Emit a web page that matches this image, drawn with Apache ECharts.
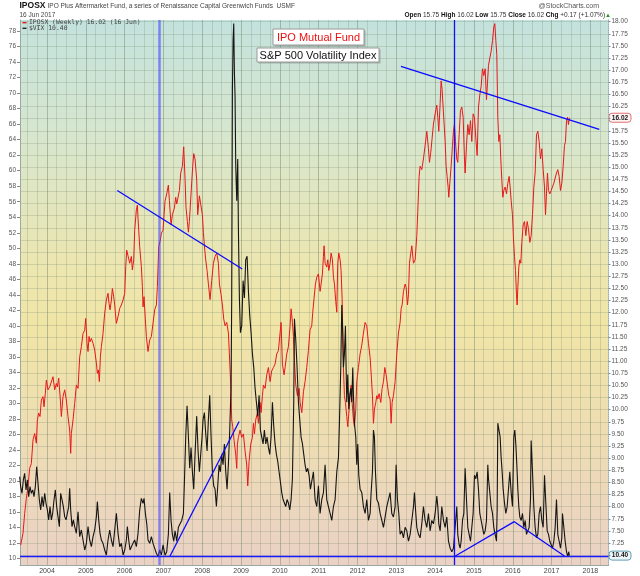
<!DOCTYPE html>
<html><head><meta charset="utf-8">
<script src="https://cdn.jsdelivr.net/npm/echarts@6/dist/echarts.min.js"></script>
<style>html,body{margin:0;padding:0;background:#fff}#c{width:640px;height:576px}</style>
</head><body><div id="c"></div>
<script>
// IPOSX weekly (right axis) [decimal year, price]
const iposx = [[2003.321,7.21],[2003.381,7.45],[2003.424,7.86],[2003.467,8.17],[2003.510,8.41],[2003.553,8.79],[2003.596,8.89],[2003.639,9.38],[2003.682,9.51],[2003.725,9.31],[2003.751,9.79],[2003.785,9.93],[2003.820,9.86],[2003.854,10.20],[2003.897,10.27],[2003.923,10.06],[2003.957,10.34],[2003.983,10.61],[2004.026,10.41],[2004.069,10.47],[2004.112,10.44],[2004.155,10.68],[2004.198,10.41],[2004.241,10.54],[2004.266,10.47],[2004.301,10.65],[2004.344,10.20],[2004.369,9.86],[2004.412,10.27],[2004.455,10.41],[2004.498,10.20],[2004.541,9.86],[2004.584,9.58],[2004.610,9.10],[2004.627,9.51],[2004.670,9.79],[2004.713,10.13],[2004.756,10.51],[2004.799,10.44],[2004.842,11.09],[2004.885,11.30],[2004.928,11.57],[2004.971,11.64],[2004.997,11.88],[2005.031,11.37],[2005.057,11.20],[2005.083,11.51],[2005.108,11.40],[2005.143,11.47],[2005.186,11.37],[2005.229,11.23],[2005.272,10.96],[2005.297,10.75],[2005.323,10.82],[2005.349,10.58],[2005.375,11.09],[2005.400,11.30],[2005.443,11.57],[2005.486,11.99],[2005.529,12.26],[2005.572,12.40],[2005.598,12.19],[2005.624,12.06],[2005.658,12.26],[2005.684,12.50],[2005.718,12.33],[2005.744,12.16],[2005.787,11.78],[2005.830,11.92],[2005.873,12.09],[2005.916,12.16],[2005.959,12.26],[2006.002,12.40],[2006.028,12.95],[2006.053,13.29],[2006.088,13.33],[2006.131,13.02],[2006.174,13.16],[2006.199,12.88],[2006.234,13.09],[2006.259,13.70],[2006.302,14.12],[2006.328,14.22],[2006.345,13.95],[2006.388,13.36],[2006.431,12.95],[2006.457,12.54],[2006.474,12.12],[2006.500,12.33],[2006.534,11.85],[2006.560,11.51],[2006.603,11.20],[2006.646,11.44],[2006.689,11.51],[2006.732,11.51],[2006.775,12.06],[2006.818,12.16],[2006.844,12.54],[2006.878,13.36],[2006.921,13.50],[2006.947,13.64],[2006.990,13.70],[2007.040,14.30],[2007.084,14.45],[2007.127,14.63],[2007.153,14.31],[2007.196,13.81],[2007.230,14.02],[2007.282,14.16],[2007.316,14.38],[2007.342,14.24],[2007.385,14.27],[2007.411,14.52],[2007.445,14.88],[2007.488,15.02],[2007.522,15.42],[2007.557,14.74],[2007.582,14.16],[2007.617,13.88],[2007.643,13.66],[2007.668,13.88],[2007.711,14.45],[2007.754,15.02],[2007.780,15.28],[2007.814,15.17],[2007.857,14.74],[2007.883,14.02],[2007.926,14.41],[2007.969,14.38],[2008.003,14.02],[2008.029,13.66],[2008.055,13.38],[2008.089,13.09],[2008.124,12.87],[2008.158,12.59],[2008.201,12.27],[2008.244,12.66],[2008.287,13.02],[2008.330,13.16],[2008.373,13.23],[2008.416,13.02],[2008.442,12.59],[2008.485,12.37],[2008.519,12.16],[2008.553,11.87],[2008.588,11.73],[2008.631,11.80],[2008.674,11.58],[2008.699,11.15],[2008.734,10.51],[2008.759,9.79],[2008.785,9.65],[2008.820,9.36],[2008.863,9.07],[2008.888,8.79],[2008.906,9.29],[2008.931,9.43],[2008.974,9.58],[2009.017,9.43],[2009.060,9.50],[2009.103,9.15],[2009.146,8.86],[2009.172,8.43],[2009.206,8.93],[2009.249,9.29],[2009.292,9.43],[2009.318,9.72],[2009.344,9.50],[2009.378,9.79],[2009.421,9.94],[2009.447,9.72],[2009.490,10.15],[2009.516,9.94],[2009.550,10.29],[2009.576,10.51],[2009.619,10.44],[2009.662,10.72],[2009.704,10.87],[2009.747,10.58],[2009.790,10.80],[2009.833,10.87],[2009.876,10.94],[2009.919,11.15],[2009.962,11.22],[2010.005,11.58],[2010.031,11.80],[2010.065,10.94],[2010.108,10.72],[2010.134,10.87],[2010.177,11.15],[2010.220,11.30],[2010.263,11.73],[2010.289,12.08],[2010.323,11.80],[2010.349,11.51],[2010.375,11.01],[2010.409,10.51],[2010.452,10.29],[2010.495,10.44],[2010.521,10.15],[2010.564,9.94],[2010.607,10.37],[2010.649,10.58],[2010.692,10.87],[2010.735,11.22],[2010.778,11.65],[2010.821,11.73],[2010.847,12.01],[2010.881,12.30],[2010.916,12.59],[2010.950,12.73],[2010.993,12.80],[2011.036,12.44],[2011.062,12.59],[2011.096,12.80],[2011.122,13.16],[2011.139,13.38],[2011.165,13.02],[2011.208,12.94],[2011.234,13.09],[2011.260,12.87],[2011.294,13.02],[2011.320,13.23],[2011.354,13.09],[2011.380,12.73],[2011.406,12.59],[2011.440,12.23],[2011.466,12.01],[2011.491,13.02],[2011.517,13.23],[2011.552,13.09],[2011.577,12.87],[2011.603,12.30],[2011.620,11.58],[2011.637,10.87],[2011.663,10.29],[2011.689,10.15],[2011.723,9.86],[2011.749,9.65],[2011.784,10.01],[2011.809,10.29],[2011.835,10.51],[2011.861,10.15],[2011.895,9.79],[2011.921,9.65],[2011.955,10.01],[2011.981,10.58],[2012.024,10.87],[2012.067,11.15],[2012.110,11.33],[2012.153,11.58],[2012.196,11.80],[2012.239,11.73],[2012.282,11.37],[2012.325,11.08],[2012.359,10.65],[2012.385,10.29],[2012.411,9.72],[2012.436,10.01],[2012.471,10.15],[2012.497,10.29],[2012.522,10.22],[2012.557,10.33],[2012.600,10.15],[2012.634,10.44],[2012.669,10.58],[2012.703,10.87],[2012.737,10.72],[2012.772,10.51],[2012.806,10.29],[2012.840,10.22],[2012.866,9.72],[2012.892,10.15],[2012.926,10.29],[2012.969,10.58],[2013.012,11.15],[2013.055,11.58],[2013.098,11.80],[2013.124,12.08],[2013.150,12.16],[2013.184,12.44],[2013.227,12.59],[2013.253,12.52],[2013.287,12.16],[2013.313,12.37],[2013.339,13.02],[2013.373,13.23],[2013.399,13.38],[2013.442,13.02],[2013.485,13.09],[2013.528,13.59],[2013.553,14.09],[2013.588,14.81],[2013.613,15.02],[2013.656,14.95],[2013.699,15.17],[2013.742,15.45],[2013.785,15.74],[2013.828,15.38],[2013.854,15.10],[2013.888,15.31],[2013.923,15.60],[2013.957,15.89],[2014.000,16.10],[2014.043,16.28],[2014.069,16.03],[2014.094,15.74],[2014.129,16.31],[2014.155,16.78],[2014.180,16.60],[2014.206,16.24],[2014.232,15.89],[2014.258,15.53],[2014.283,15.02],[2014.309,14.81],[2014.335,14.59],[2014.352,14.38],[2014.378,14.67],[2014.412,15.02],[2014.447,15.45],[2014.472,15.74],[2014.498,15.89],[2014.524,15.53],[2014.558,15.17],[2014.584,15.10],[2014.619,15.67],[2014.653,16.17],[2014.687,16.24],[2014.722,16.03],[2014.756,15.17],[2014.773,14.88],[2014.808,15.45],[2014.842,15.88],[2014.876,15.67],[2014.911,15.96],[2014.945,15.53],[2014.979,16.10],[2015.014,16.03],[2015.048,15.60],[2015.083,15.24],[2015.117,16.24],[2015.151,16.49],[2015.186,16.67],[2015.220,17.03],[2015.254,16.89],[2015.289,17.03],[2015.323,16.39],[2015.349,16.74],[2015.375,17.10],[2015.409,17.25],[2015.443,17.39],[2015.478,17.61],[2015.512,17.89],[2015.538,17.96],[2015.564,17.61],[2015.589,17.32],[2015.615,16.03],[2015.641,15.53],[2015.667,15.67],[2015.692,15.17],[2015.718,14.74],[2015.744,14.38],[2015.770,14.52],[2015.804,14.59],[2015.839,14.45],[2015.873,14.67],[2015.907,14.81],[2015.933,14.59],[2015.959,14.31],[2015.993,14.02],[2016.019,13.52],[2016.045,13.16],[2016.071,12.87],[2016.096,12.37],[2016.113,12.16],[2016.131,12.52],[2016.156,12.94],[2016.182,13.09],[2016.208,13.02],[2016.234,13.45],[2016.268,13.81],[2016.302,13.88],[2016.337,13.59],[2016.371,13.88],[2016.405,13.73],[2016.440,13.45],[2016.474,13.59],[2016.509,14.02],[2016.543,14.59],[2016.577,14.88],[2016.612,15.67],[2016.646,15.74],[2016.680,15.53],[2016.715,15.17],[2016.749,15.38],[2016.784,14.95],[2016.818,14.59],[2016.844,14.02],[2016.869,14.45],[2016.895,14.88],[2016.921,14.52],[2016.955,14.45],[2016.990,14.52],[2017.024,14.52],[2017.058,14.67],[2017.093,14.67],[2017.127,14.88],[2017.161,14.95],[2017.196,14.81],[2017.230,14.52],[2017.264,14.67],[2017.299,15.02],[2017.333,15.45],[2017.359,15.53],[2017.385,15.96],[2017.411,16.03],[2017.436,15.88],[2017.460,16.02]];

// $VIX weekly (left axis) [decimal year, value]
const vix = [[2003.296,20.58],[2003.321,19.29],[2003.356,18.43],[2003.390,20.15],[2003.424,21.00],[2003.459,18.86],[2003.493,20.15],[2003.527,18.00],[2003.562,19.29],[2003.596,18.43],[2003.631,18.86],[2003.665,18.00],[2003.699,19.29],[2003.734,21.86],[2003.768,19.72],[2003.802,17.57],[2003.837,16.28],[2003.871,18.00],[2003.906,16.71],[2003.940,18.43],[2003.974,17.14],[2004.009,16.28],[2004.043,15.00],[2004.077,16.71],[2004.112,15.00],[2004.146,15.85],[2004.180,17.57],[2004.215,18.86],[2004.249,16.71],[2004.283,15.42],[2004.318,14.13],[2004.352,18.43],[2004.387,17.57],[2004.421,16.71],[2004.455,15.42],[2004.490,15.00],[2004.524,15.85],[2004.558,16.71],[2004.584,19.07],[2004.610,16.28],[2004.644,14.13],[2004.679,15.00],[2004.713,14.13],[2004.756,13.27],[2004.799,16.06],[2004.842,12.84],[2004.885,13.70],[2004.928,12.41],[2004.971,11.12],[2005.014,11.98],[2005.057,14.13],[2005.100,12.41],[2005.143,11.55],[2005.186,12.84],[2005.229,13.70],[2005.272,15.42],[2005.297,17.35],[2005.332,15.00],[2005.366,13.27],[2005.400,12.41],[2005.443,11.98],[2005.486,11.12],[2005.529,10.48],[2005.572,12.41],[2005.615,13.70],[2005.658,12.41],[2005.701,11.55],[2005.744,13.70],[2005.787,15.85],[2005.830,13.27],[2005.873,11.55],[2005.916,11.98],[2005.959,10.48],[2006.002,11.12],[2006.045,12.41],[2006.070,14.13],[2006.105,12.41],[2006.139,11.12],[2006.174,11.55],[2006.216,11.98],[2006.259,12.41],[2006.302,11.55],[2006.345,13.27],[2006.388,16.28],[2006.431,17.78],[2006.474,17.14],[2006.500,17.78],[2006.534,15.85],[2006.569,14.56],[2006.603,12.41],[2006.646,11.98],[2006.689,12.84],[2006.732,11.98],[2006.775,11.34],[2006.818,10.70],[2006.861,10.27],[2006.904,11.12],[2006.947,10.48],[2006.990,11.77],[2007.041,10.45],[2007.084,10.90],[2007.127,13.14],[2007.161,18.52],[2007.196,14.93],[2007.230,13.14],[2007.265,12.25],[2007.299,13.59],[2007.342,12.25],[2007.385,14.04],[2007.428,14.49],[2007.471,14.93],[2007.514,15.83],[2007.540,19.86],[2007.574,25.68],[2007.608,29.71],[2007.643,25.68],[2007.677,21.65],[2007.711,24.34],[2007.746,21.20],[2007.780,18.96],[2007.814,23.44],[2007.857,28.37],[2007.892,23.89],[2007.926,21.20],[2007.960,23.44],[2007.995,25.68],[2008.021,27.92],[2008.055,28.82],[2008.089,26.13],[2008.124,23.89],[2008.158,27.92],[2008.192,31.06],[2008.227,25.68],[2008.261,21.20],[2008.295,19.41],[2008.330,18.96],[2008.364,16.72],[2008.399,19.41],[2008.433,22.10],[2008.467,21.20],[2008.502,23.44],[2008.536,22.10],[2008.570,24.79],[2008.605,21.20],[2008.639,18.96],[2008.673,22.10],[2008.708,26.58],[2008.742,31.95],[2008.759,43.59],[2008.777,70.46],[2008.794,76.73],[2008.811,78.97],[2008.828,72.70],[2008.845,69.57],[2008.863,60.61],[2008.888,56.13],[2008.914,61.51],[2008.931,52.55],[2008.957,43.59],[2008.983,39.12],[2009.017,40.01],[2009.052,45.83],[2009.086,43.59],[2009.120,48.52],[2009.155,48.97],[2009.189,44.49],[2009.223,41.36],[2009.258,39.12],[2009.292,36.43],[2009.327,34.64],[2009.361,31.95],[2009.395,30.16],[2009.430,28.37],[2009.464,31.06],[2009.498,26.58],[2009.533,25.68],[2009.567,24.79],[2009.601,26.58],[2009.636,24.79],[2009.670,25.68],[2009.704,24.34],[2009.739,23.44],[2009.773,25.68],[2009.808,30.16],[2009.842,27.02],[2009.876,24.79],[2009.911,23.44],[2009.945,22.55],[2009.979,21.20],[2010.014,19.86],[2010.048,18.52],[2010.082,17.62],[2010.117,17.17],[2010.151,16.72],[2010.185,17.62],[2010.220,17.17],[2010.254,16.28],[2010.289,17.62],[2010.323,20.31],[2010.357,30.16],[2010.375,40.91],[2010.409,38.22],[2010.443,34.64],[2010.478,30.16],[2010.512,27.92],[2010.546,25.68],[2010.581,24.79],[2010.615,23.44],[2010.649,22.10],[2010.684,21.20],[2010.718,21.65],[2010.752,20.75],[2010.787,18.96],[2010.821,18.96],[2010.864,21.20],[2010.907,17.62],[2010.950,16.72],[2010.993,19.41],[2011.036,15.83],[2011.079,17.62],[2011.122,18.52],[2011.165,22.10],[2011.208,17.62],[2011.251,16.72],[2011.294,15.83],[2011.337,14.93],[2011.380,16.72],[2011.423,17.62],[2011.466,21.20],[2011.509,22.99],[2011.534,27.47],[2011.569,34.64],[2011.595,42.70],[2011.620,39.12],[2011.637,34.64],[2011.663,36.43],[2011.689,40.01],[2011.706,34.64],[2011.723,30.16],[2011.749,33.74],[2011.775,29.26],[2011.801,31.06],[2011.826,31.95],[2011.852,30.16],[2011.878,34.64],[2011.895,31.06],[2011.921,27.47],[2011.955,25.68],[2011.981,22.10],[2012.007,24.79],[2012.033,20.75],[2012.067,18.96],[2012.110,18.52],[2012.153,16.72],[2012.196,15.83],[2012.239,17.62],[2012.282,14.93],[2012.325,15.83],[2012.351,18.52],[2012.385,21.20],[2012.411,26.58],[2012.436,25.68],[2012.462,21.20],[2012.497,17.62],[2012.540,17.17],[2012.583,15.83],[2012.626,14.93],[2012.669,14.04],[2012.712,15.38],[2012.754,16.72],[2012.797,17.62],[2012.840,18.52],[2012.883,15.83],[2012.926,15.38],[2012.969,16.72],[2012.995,22.10],[2013.029,17.62],[2013.064,15.83],[2013.098,13.14],[2013.141,13.59],[2013.184,12.69],[2013.227,14.04],[2013.270,13.59],[2013.313,12.25],[2013.356,13.14],[2013.399,14.93],[2013.442,16.72],[2013.467,18.52],[2013.502,15.83],[2013.528,14.04],[2013.571,13.14],[2013.613,12.69],[2013.656,14.49],[2013.699,16.72],[2013.742,14.93],[2013.785,14.04],[2013.828,15.83],[2013.871,13.59],[2013.914,14.93],[2013.957,14.49],[2014.000,15.83],[2014.043,18.07],[2014.069,16.72],[2014.094,14.49],[2014.129,13.59],[2014.172,16.72],[2014.215,14.93],[2014.258,14.04],[2014.301,15.38],[2014.344,12.25],[2014.387,11.35],[2014.430,10.90],[2014.472,11.35],[2014.516,11.35],[2014.558,16.72],[2014.584,13.14],[2014.619,11.80],[2014.644,11.35],[2014.670,12.25],[2014.705,14.93],[2014.739,15.83],[2014.773,21.65],[2014.808,17.62],[2014.842,14.04],[2014.876,13.14],[2014.911,12.25],[2014.945,14.04],[2014.979,15.83],[2015.014,20.75],[2015.048,20.31],[2015.083,21.20],[2015.117,18.96],[2015.151,15.83],[2015.186,14.93],[2015.220,14.04],[2015.254,13.14],[2015.289,13.59],[2015.323,14.93],[2015.357,22.10],[2015.375,20.31],[2015.409,18.52],[2015.443,16.72],[2015.478,15.83],[2015.512,14.04],[2015.546,13.14],[2015.581,12.25],[2015.598,16.28],[2015.615,27.47],[2015.650,27.47],[2015.675,25.68],[2015.701,22.99],[2015.727,21.20],[2015.753,18.96],[2015.787,17.17],[2015.821,15.83],[2015.856,16.72],[2015.890,18.96],[2015.924,21.20],[2015.959,18.52],[2015.993,16.72],[2016.027,25.68],[2016.053,26.58],[2016.079,24.79],[2016.105,22.10],[2016.131,18.96],[2016.156,16.72],[2016.182,15.38],[2016.217,14.93],[2016.251,15.83],[2016.285,14.04],[2016.320,14.93],[2016.354,13.14],[2016.388,13.59],[2016.423,14.04],[2016.457,17.62],[2016.474,25.23],[2016.509,21.20],[2016.543,16.72],[2016.577,14.04],[2016.612,12.69],[2016.646,13.14],[2016.680,15.83],[2016.715,16.72],[2016.749,14.93],[2016.784,14.04],[2016.818,20.75],[2016.852,17.17],[2016.887,13.59],[2016.921,13.14],[2016.955,12.25],[2016.990,11.80],[2017.024,11.35],[2017.058,12.25],[2017.093,14.04],[2017.127,17.62],[2017.161,13.14],[2017.196,12.25],[2017.230,11.35],[2017.264,12.69],[2017.281,15.83],[2017.316,14.04],[2017.350,12.25],[2017.385,10.90],[2017.419,10.23],[2017.440,10.90],[2017.460,10.40]];

// hand-drawn annotation lines
const ipoTrend1 = [[2005.81,14.52],[2009.03,12.90]];
const ipoTrend2 = [[2013.12,17.08],[2018.23,15.78]];
const vixTrend1 = [[2007.17,10.35],[2008.95,27.68]];
const vixTrend2 = [[2014.52,10.35],[2016.04,14.77],[2017.33,10.35]];
const vixBaseLevel = 10.35;
const markerDates = [2006.905, 2014.503];

// ticks
const yearTicks = [2004,2005,2006,2007,2008,2009,2010,2011,2012,2013,2014,2015,2016,2017,2018];
const vixTicks = [10,12,14,16,18,20,22,24,26,28,30,32,34,36,38,40,42,44,46,48,50,52,54,56,58,60,62,64,66,68,70,72,74,76,78];
const ipoGridTicks = []; for (let i = 0; i <= 44; i++) ipoGridTicks.push(7 + i * 0.25);
const ipoLabelTicks = ipoGridTicks.filter(v => v !== 7 && v !== 16);
const quarterTicks = []; for (let i = 0; i <= 59; i++) quarterTicks.push(2003.5 + i * 0.25);

const FONT = '"Liberation Sans", Arial, sans-serif';
const chart = echarts.init(document.getElementById('c'));
const gridLight = 'rgba(125,145,120,0.28)', gridDark = 'rgba(110,130,100,0.45)';

chart.setOption({
  animation: false,
  grid: { left: 20, right: 31.5, top: 20, bottom: 11, show: true, borderWidth: 0,
    backgroundColor: new echarts.graphic.LinearGradient(0, 0, 0, 1, [
      { offset: 0, color: '#c3e2dd' }, { offset: 0.2, color: '#d6e6cf' },
      { offset: 0.45, color: '#ece6b0' }, { offset: 0.56, color: '#f0e5a6' },
      { offset: 0.78, color: '#eedcb4' }, { offset: 1, color: '#ead1c5' }]) },
  xAxis: { type: 'value', min: 2003.304, max: 2018.467,
    axisLine: { show: true, lineStyle: { color: '#9aa8a0' } },
    axisTick: { show: false, customValues: quarterTicks },
    splitLine: { show: true, lineStyle: { width: 1, color: [gridLight, gridLight, gridDark, gridLight] } },
    axisLabel: { customValues: yearTicks, formatter: v => String(Math.round(v)), fontSize: 7, color: '#444', margin: 3, fontFamily: FONT } },
  yAxis: [
    { type: 'value', position: 'left', min: 9.188, max: 79.42,
      axisLine: { show: true, lineStyle: { color: '#9aa8a0' } },
      axisTick: { show: true, length: 3, customValues: vixTicks, lineStyle: { color: '#888' } },
      axisLabel: { customValues: vixTicks, fontSize: 6.5, color: '#555', margin: 4, fontFamily: FONT },
      splitLine: { show: false } },
    { type: 'value', position: 'right', min: 6.798, max: 18.035,
      axisLine: { show: true, lineStyle: { color: '#8fb0bb', type: 'dotted' } },
      axisTick: { show: true, length: 2, customValues: ipoGridTicks, lineStyle: { color: '#888' } },
      axisLabel: { customValues: ipoLabelTicks, formatter: v => v.toFixed(2), fontSize: 6.5, color: '#555', margin: 3, fontFamily: FONT },
      splitLine: { show: true, lineStyle: { color: gridLight, width: 1 } } }
  ],
  series: [
    { name: 'IPOSX', type: 'line', yAxisIndex: 1, data: iposx, showSymbol: false, z: 3,
      lineStyle: { color: '#e8171a', width: 1 } },
    { name: '$VIX', type: 'line', yAxisIndex: 0, data: vix, showSymbol: false, z: 4,
      lineStyle: { color: '#151515', width: 1.1 },
      markLine: { silent: true, symbol: 'none', label: { show: false }, animation: false,
        data: [
          { xAxis: markerDates[0], lineStyle: { color: 'rgba(70,70,255,0.6)', width: 2.5, type: 'solid' } },
          { xAxis: markerDates[1], lineStyle: { color: '#1010ff', width: 1.3, type: 'solid' } },
          { yAxis: vixBaseLevel, lineStyle: { color: '#1a1aff', width: 1.3, type: 'solid' } }
        ] } },
    { type: 'line', yAxisIndex: 1, data: ipoTrend1, showSymbol: false, z: 5, lineStyle: { color: '#0a0aff', width: 1.3 } },
    { type: 'line', yAxisIndex: 1, data: ipoTrend2, showSymbol: false, z: 5, lineStyle: { color: '#0a0aff', width: 1.3 } },
    { type: 'line', yAxisIndex: 0, data: vixTrend1, showSymbol: false, z: 5, lineStyle: { color: '#0a0aff', width: 1.3 } },
    { type: 'line', yAxisIndex: 0, data: vixTrend2, showSymbol: false, z: 5, lineStyle: { color: '#0a0aff', width: 1.3 } }
  ]
});

const lastIpo = iposx[iposx.length - 1][1];
const lastVix = vix[vix.length - 1][1];
const yIpo = chart.convertToPixel({ yAxisIndex: 1 }, lastIpo);
const yVix = chart.convertToPixel({ yAxisIndex: 0 }, lastVix);

function badge(y, txt, stroke, fill) {
  return { type: 'group', x: 609, y: y, z: 100, children: [
    { type: 'rect', shape: { x: 0, y: -4.5, width: 22, height: 9, r: 3 }, style: { fill: fill, stroke: stroke, lineWidth: 1 } },
    { type: 'text', x: 11, y: 0, style: { text: txt, font: 'bold 6.5px ' + FONT, fill: '#111', align: 'center', verticalAlign: 'middle' } }
  ] };
}
function note(x, y, w, h, txt, color) {
  return { type: 'group', x: x, y: y, z: 100, children: [
    { type: 'rect', shape: { x: 1.5, y: 1.5, width: w, height: h }, style: { fill: 'rgba(90,90,90,0.35)' } },
    { type: 'rect', shape: { x: 0, y: 0, width: w, height: h }, style: { fill: '#ffffff', stroke: '#9a9a9a', lineWidth: 1 } },
    { type: 'text', x: w / 2, y: h / 2 + 0.5, style: { text: txt, font: '11px ' + FONT, fill: color, align: 'center', verticalAlign: 'middle' } }
  ] };
}

chart.setOption({ graphic: [
  { type: 'text', x: 19.5, y: 6, style: { text: 'IPOSX', font: 'bold 8.5px ' + FONT, fill: '#111', verticalAlign: 'middle' } },
  { type: 'text', x: 47.5, y: 6, style: { text: 'IPO Plus Aftermarket Fund, a series of Renaissance Capital Greenwich Funds  USMF', font: '6.5px ' + FONT, fill: '#444', verticalAlign: 'middle' } },
  { type: 'text', x: 19.5, y: 15, style: { text: '16 Jun 2017', font: '6.5px ' + FONT, fill: '#444', verticalAlign: 'middle' } },
  { type: 'text', x: 599, y: 6, style: { text: '@StockCharts.com', font: '7px ' + FONT, fill: '#555', align: 'right', verticalAlign: 'middle' } },
  { type: 'text', x: 611, y: 15, style: { align: 'right', verticalAlign: 'middle',
      text: '{b|Open} 15.75 {b|High} 16.02 {b|Low} 15.75 {b|Close} 16.02 {b|Chg} +0.17 (+1.07%){g|▲}',
      font: '6.5px ' + FONT, fill: '#333',
      rich: { b: { font: 'bold 6.5px ' + FONT, fill: '#111' }, g: { font: '6px ' + FONT, fill: '#1a9a1a' } } } },
  { type: 'rect', z: 100, shape: { x: 22.5, y: 22, width: 4, height: 1.4 }, style: { fill: '#e8171a' } },
  { type: 'text', z: 100, x: 29, y: 22.7, style: { text: 'IPOSX (Weekly) 16.02 (16 Jun)', font: '6.4px "DejaVu Sans Mono", monospace', fill: '#444', verticalAlign: 'middle' } },
  { type: 'rect', z: 100, shape: { x: 22.5, y: 27.6, width: 4, height: 1.4 }, style: { fill: '#222' } },
  { type: 'text', z: 100, x: 29, y: 28.3, style: { text: '$VIX 10.40', font: '6.4px "DejaVu Sans Mono", monospace', fill: '#444', verticalAlign: 'middle' } },
  note(273, 29, 91, 16, 'IPO Mutual Fund', '#ee1111'),
  note(257, 48, 122, 14, 'S&P 500 Volatility Index', '#111111'),
  badge(yIpo, lastIpo.toFixed(2), '#e07070', '#fff4f4'),
  badge(yVix, lastVix.toFixed(2), '#5f9fb0', '#eef6fa')
] });
</script></body></html>
